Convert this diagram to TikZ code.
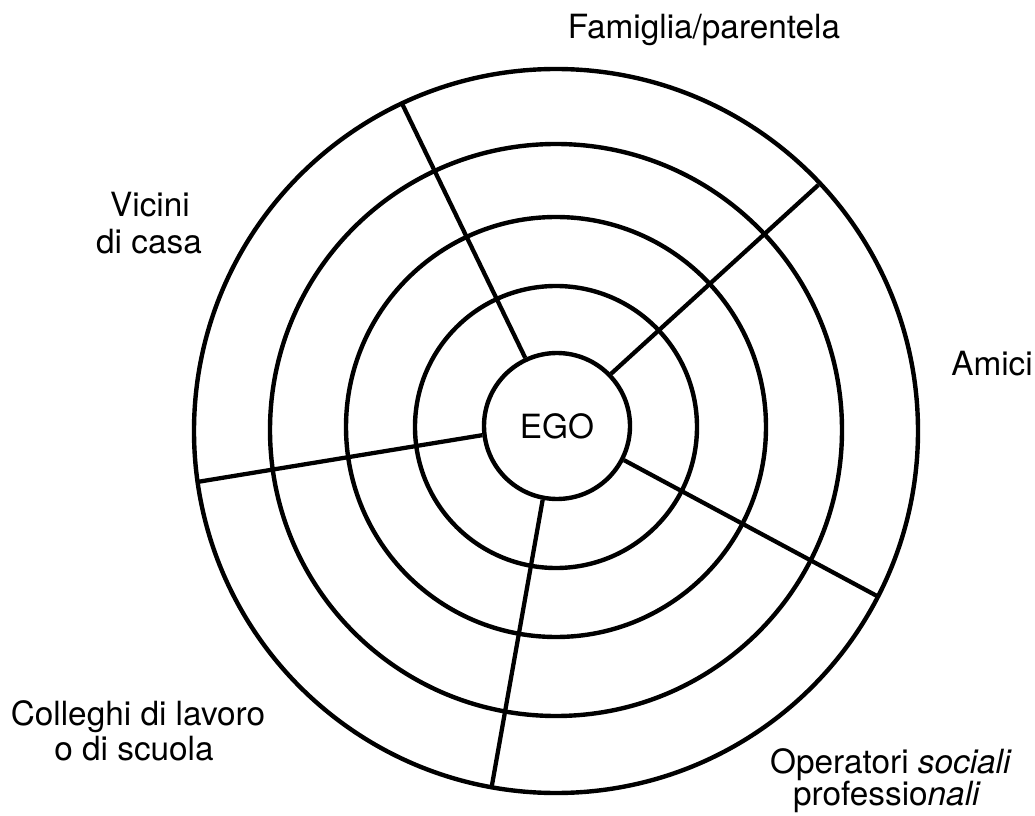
\documentclass[tikz,border=0pt]{standalone}
\usepackage{fontspec}
\setmainfont{TeX Gyre Heros}
\begin{document}
\begin{tikzpicture}[x=0.75pt,y=-0.75pt,
  ring/.style={line width=3.3pt},
  spoke/.style={line width=3.2pt},
  lab/.style={anchor=base, inner sep=0pt, font=\fontsize{25}{29}\selectfont}]
\useasboundingbox (0,0) rectangle (1035,816);
% centre
\node[circle, draw, line width=3.3pt, minimum size=109.5pt, inner sep=0pt,
      font=\fontsize{25}{29}\selectfont] (ego) at (557,426) {EGO};
% rings
\draw[ring] (556,427) circle[radius=105.75pt];
\draw[ring] (556,427) circle[radius=157.5pt];
\draw[ring] (556,430) circle[radius=214.5pt];
\draw[ring] (556,431) circle[radius=271.5pt];
% outer ends of the spokes
\coordinate (o1) at (402.7,105);
\coordinate (o2) at (818.3,185);
\coordinate (o3) at (878.3,596.7);
\coordinate (o4) at (491.7,786.7);
\coordinate (o5) at (197,482);
\draw[spoke] (ego.115.5) -- (o1);
\draw[spoke] (ego.44.5) -- (o2);
\draw[spoke] (ego.333.5) -- (o3);
\draw[spoke] (ego.259) -- (o4);
\draw[spoke] (ego.187) -- (o5);
% labels
\node[lab] (fam) at (704,39) {Famiglia/parentela};
\node[lab] (vic1) at (150,217) {Vicini};
\node[lab] (vic2) at (149,254) {di casa};
\node[lab] (ami) at (992,376) {Amici};
\node[lab] (col1) at (138,725) {Colleghi di lavoro};
\node[lab] (col2) at (134,760) {o di scuola};
\node[lab] (op1) at (891,773) {Operatori \textit{sociali}};
\node[lab] (op2) at (887,805) {professio\textit{nali}};
\end{tikzpicture}
\end{document}
